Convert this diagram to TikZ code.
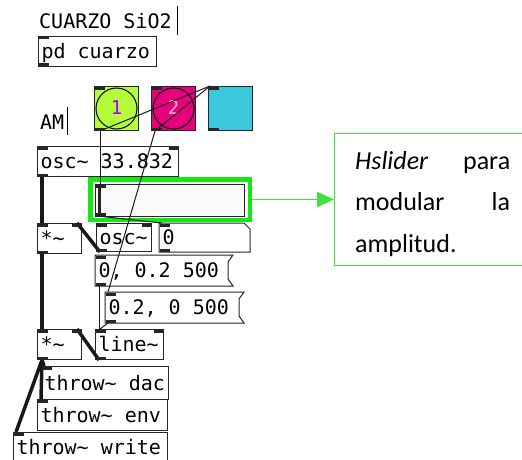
\documentclass[tikz,border=0pt]{standalone}
\usepackage{fontspec}
\usetikzlibrary{arrows.meta}
\newfontfamily\pdmono{DejaVu Sans Mono}
\newfontfamily\notefont{Carlito}
\newcommand\pdtilde{\char"7E\relax}
\definecolor{bangA}{RGB}{180,252,60}
\definecolor{bangB}{RGB}{230,0,125}
\definecolor{cyanbox}{RGB}{58,200,218}
\definecolor{hlgreen}{RGB}{20,232,20}
\definecolor{notegreen}{RGB}{60,228,60}
\definecolor{labA}{RGB}{165,0,255}
\definecolor{labB}{RGB}{255,185,205}
% inlets and outlets of a Pd box
\newcommand\pdin[1]{\fill[port] ([xshift=0.5pt,yshift=-0.5pt]#1.north west) rectangle ++(10,3);}
\newcommand\pdinR[1]{\fill[port] ([xshift=-0.5pt,yshift=-0.5pt]#1.north east) rectangle ++(-10,3);}
\newcommand\pdout[1]{\fill[port] ([xshift=0.5pt,yshift=0.5pt]#1.south west) rectangle ++(10,-3);}
\begin{document}
\begin{tikzpicture}[x=1pt,y=-1pt,
  pdfont/.style={font=\pdmono\fontsize{20}{24}\selectfont},
  pdbox/.style={pdfont, draw=black!85, line width=1pt, fill=white, anchor=north west,
    inner xsep=3pt, inner ysep=0pt, minimum height=30pt, text height=17pt, text depth=3pt},
  % fixed inner width, text set flush left at natural spacing
  pdw/.style={execute at begin node={\hbox to #1\bgroup}, execute at end node={\hfil\egroup}},
  pdcomment/.style={pdfont, anchor=base west, inner sep=0pt},
  port/.style={fill=black!85},
  msgwire/.style={line width=1pt, black!90},
  sigwire/.style={line width=3.5pt, black!90},
  bangbox/.style={draw=black!85, line width=1pt, anchor=north west, minimum width=44pt, minimum height=44pt, inner sep=0pt},
  banglabel/.style={font=\pdmono\fontsize{19}{20}\selectfont, inner sep=0pt},
]
\fill[white] (0,0) rectangle (522,460);
\useasboundingbox (0,0) rectangle (522,460);

% comments
\node[pdcomment] (title) at (39,29) {CUARZO SiO2};
\draw[line width=0.8pt] (177,6) -- (177,35);
\node[pdcomment] (amlabel) at (40,129) {AM};
\draw[line width=0.8pt] (67,107) -- (67,135);

% subpatch
\node[pdbox, pdw=112pt] (cuarzo) at (38,36) {pd cuarzo};

% bangs and canvas
\node[bangbox, fill=bangA] (b1) at (94,86) {};
\node[bangbox, fill=bangB] (b2) at (151,86) {};
\node[bangbox, fill=cyanbox] (cy) at (208,86) {};
\draw[line width=1pt] (b1.center) circle (20.5);
\draw[line width=1pt] (b2.center) circle (20.5);
\node[banglabel, text=labA] at ([yshift=1pt]b1.center) {1};
\node[banglabel, text=labB] at ([yshift=1pt]b2.center) {2};

% oscillator
\node[pdbox, pdw=135pt] (osc33) at (37,146) {osc\pdtilde{} 33.832};

% horizontal slider with its highlight frame
\node[draw=hlgreen, line width=4.5pt, minimum width=159.5pt, minimum height=40.5pt, inner sep=0pt, outer sep=2.25pt] (hslbox) at (170,199.5) {};
\node[draw=black!85, line width=1pt, fill=black!2, minimum width=149pt, minimum height=32pt, anchor=north west, inner sep=0pt, outer sep=0pt] (hsl) at (95,184) {};
\draw[line width=3pt, black!85] ([xshift=4pt]hsl.north west) -- ([xshift=4pt]hsl.south west);

% second row
\node[pdbox, pdw=38pt] (mul1) at (37,223) {*\pdtilde};
\node[pdbox, pdw=49pt, minimum height=28pt] (osc) at (96,223) {osc\pdtilde};
\node[pdbox, draw=none, pdw=84pt, minimum height=28pt] (num) at (159,223) {0};
\draw[line width=1pt, black!85] (num.north west) -- ([xshift=-6pt]num.north east) -- ([yshift=-6pt]num.north east) -- (num.south east) -- (num.south west) -- cycle;

% messages
\node[pdbox, draw=none, pdw=126pt] (msg1) at (95,255) {0, 0.2 500};
\draw[line width=1pt, black!85] (msg1.north west) -- ([xshift=5pt]msg1.north east) -- ([yshift=-7pt]msg1.north east) -- ([yshift=7pt]msg1.south east) -- ([xshift=5pt]msg1.south east) -- (msg1.south west) -- cycle;
\node[pdbox, draw=none, pdw=127pt] (msg2) at (105,292) {0.2, 0 500};
\draw[line width=1pt, black!85] (msg2.north west) -- ([xshift=5pt]msg2.north east) -- ([yshift=-7pt]msg2.north east) -- ([yshift=7pt]msg2.south east) -- ([xshift=5pt]msg2.south east) -- (msg2.south west) -- cycle;

% envelope and output
\node[pdbox, pdw=38pt] (mul2) at (37,329) {*\pdtilde};
\node[pdbox, pdw=62pt] (line) at (95,329) {line\pdtilde};
\node[pdbox, pdw=121pt, minimum height=33pt] (dac) at (41,366) {throw\pdtilde{} dac};
\node[pdbox, pdw=124pt, minimum height=31pt] (env) at (37,399) {throw\pdtilde{} env};
\node[pdbox, pdw=148pt] (write) at (13,432) {throw\pdtilde{} write};

% connections
\draw[msgwire] ([xshift=6pt]b1.south west) -- ([xshift=5pt]hsl.north west);
\draw[msgwire] ([xshift=6pt]b1.south west) -- ([xshift=2pt]cy.north west);
\draw[msgwire] ([xshift=4pt]b2.south west) -- ([xshift=2pt]cy.north west);
\draw[msgwire] ([xshift=4pt]b2.south west) -- ([xshift=3pt]msg2.north west);
\draw[msgwire] ([xshift=2pt]hsl.south west) -- ([xshift=3pt]num.north west);
\draw[sigwire] ([xshift=5pt]osc33.south west) -- ([xshift=5pt]mul1.north west);
\draw[sigwire] ([xshift=4pt]osc.south west) -- ([xshift=-5pt]mul1.north east);
\draw[sigwire] ([xshift=5pt]mul1.south west) -- ([xshift=5pt]mul2.north west);
\draw[msgwire] ([xshift=4pt]msg1.south west) -- ([xshift=4pt]line.north west);
\draw[msgwire] ([xshift=3pt]msg2.south west) -- ([xshift=5pt]line.north west);
\draw[sigwire] ([xshift=4pt]line.south west) -- ([xshift=-5pt]mul2.north east);
\draw[sigwire] ([xshift=5pt]mul2.south west) -- ([xshift=3pt]dac.north west);
\draw[sigwire] ([xshift=5pt]mul2.south west) -- ([xshift=4pt]env.north west);
\draw[sigwire] ([xshift=5pt]mul2.south west) -- ([xshift=3pt]write.north west);

% inlets and outlets
\pdin{cuarzo}\pdout{cuarzo}
\pdin{b1}\pdout{b1}\pdin{b2}\pdout{b2}\pdin{cy}\pdout{cy}
\pdin{osc33}\pdinR{osc33}\pdout{osc33}
\pdin{hsl}\pdout{hsl}
\pdin{mul1}\pdinR{mul1}\pdout{mul1}
\pdin{osc}\pdinR{osc}\pdout{osc}
\pdin{num}\pdout{num}
\pdin{msg1}\pdout{msg1}\pdin{msg2}\pdout{msg2}
\pdin{mul2}\pdinR{mul2}\pdout{mul2}
\pdin{line}\pdinR{line}\pdout{line}
\pdin{dac}\pdin{env}\pdin{write}

% annotation
\node[draw=notegreen, line width=1pt, anchor=north west, minimum width=195pt, minimum height=132pt, inner sep=0pt] (note) at (334,133) {};
\begin{scope}
\clip (334,133) rectangle (522,256);
\node[anchor=base west, text width=155pt, align=left, inner sep=0pt, font=\notefont\fontsize{26}{41.5}\selectfont] (notetext) at (355,169) {\textit{Hslider}\hfill para\\modular\hfill la\\amplitud.};
\end{scope}
\draw[notegreen, line width=1.6pt, -{Triangle[length=17pt,width=15pt]}] (hslbox.east) -- (hslbox.east -| note.west);
\end{tikzpicture}
\end{document}
